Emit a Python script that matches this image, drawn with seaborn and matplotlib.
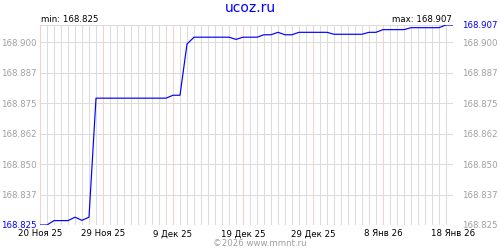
import matplotlib
matplotlib.use("Agg")
import matplotlib.pyplot as plt
import seaborn as sns
import pandas as pd

start_date = "2025-11-20"
values = [
    168.825, 168.825, 168.8268, 168.8268, 168.8268, 168.8282, 168.8269, 168.8282,
    168.8770, 168.8770, 168.8770, 168.8770, 168.8770, 168.8770, 168.8770, 168.8770,
    168.8770, 168.8770, 168.8770,
    168.8782, 168.8782, 168.8992,
    168.9020, 168.9020, 168.9020, 168.9020, 168.9020, 168.9020,
    168.9011,
    168.9020, 168.9020, 168.9020,
    168.9030, 168.9030,
    168.9040,
    168.9030, 168.9030,
    168.9040, 168.9040, 168.9040, 168.9040, 168.9040,
    168.9032, 168.9032, 168.9032, 168.9032, 168.9032,
    168.9040, 168.9040,
    168.9051, 168.9051, 168.9051, 168.9051,
    168.9059, 168.9059, 168.9059, 168.9059, 168.9059,
    168.907, 168.907,
]
x_tick_dates = ["2025-11-20", "2025-11-29", "2025-12-09", "2025-12-19",
                "2025-12-29", "2026-01-08", "2026-01-18"]
x_tick_labels = ["20 Ноя 25", "29 Ноя 25", "9 Дек 25", "19 Дек 25",
                 "29 Дек 25", "8 Янв 26", "18 Янв 26"]
y_ticks = [168.825, 168.8375, 168.850, 168.8625, 168.875, 168.8875, 168.900]
y_tick_labels = ["168.825", "168.837", "168.850", "168.862", "168.875", "168.887", "168.900"]
y_min, y_max = 168.825, 168.907

dates = pd.date_range(start_date, periods=len(values), freq="D")
df = pd.DataFrame({"date": dates, "value": values})

sns.set_theme(style="white")
plt.rcParams['font.family'] = ['DejaVu Sans']

fig = plt.figure(figsize=(5, 2.5), dpi=100)
ax = fig.add_axes([40/500, 25/250, 413/500, 200/250])

grey = "#dcdcdc"
pink = "#ffcccc"
fs = 6.2

for yv in y_ticks + [y_max]:
    ax.axhline(yv, color=grey, lw=0.75, zorder=0)
tick_dt = pd.to_datetime(x_tick_dates)
for d in dates:
    if d in tick_dt:
        continue
    ax.axvline(d, color=grey, lw=0.75, zorder=0)
for d in tick_dt:
    ax.axvline(d, color=pink, lw=0.75, zorder=0.5)

sns.lineplot(data=df, x="date", y="value", ax=ax, color="#0000ff", lw=0.85, zorder=3)

ax.set_xlim(dates[0], dates[-1])
ax.set_ylim(y_min, y_max)
for s in ax.spines.values():
    s.set_visible(False)
ax.set_xlabel("")
ax.set_ylabel("")

ax.set_xticks(tick_dt)
ax.set_xticklabels(x_tick_labels, fontsize=fs, color="black")
ax.tick_params(axis="x", length=0, pad=3)

ax.set_yticks(y_ticks)
ax.set_yticklabels(y_tick_labels, fontsize=fs, color="#a0a0a0")
ax.tick_params(axis="y", length=0, pad=2.5)
ax.get_yticklabels()[0].set_color("#0000ff")

ax2 = ax.twinx()
ax2.set_ylim(y_min, y_max)
for s in ax2.spines.values():
    s.set_visible(False)
ax2.set_yticks(y_ticks + [y_max])
ax2.set_yticklabels(y_tick_labels + ["168.907"], fontsize=fs, color="#a0a0a0")
ax2.tick_params(axis="y", length=0, pad=6.5)
ax2.get_yticklabels()[-1].set_color("#0000ff")
ax2.grid(False)

fig.text(0.5, 1 - 8/250, "ucoz.ru", ha="center", va="center", color="#0000ff", fontsize=10)
fig.text(41/500, 1 - 19/250, "min: 168.825", ha="left", va="center", color="black", fontsize=fs)
fig.text(452/500, 1 - 19/250, "max: 168.907", ha="right", va="center", color="black", fontsize=fs)
fig.text(260/500, 1 - 243/250, "©2026 www.mmnt.ru", ha="center", va="center", color="#a0a0a0", fontsize=fs)

fig.savefig("out.png", dpi=100)
